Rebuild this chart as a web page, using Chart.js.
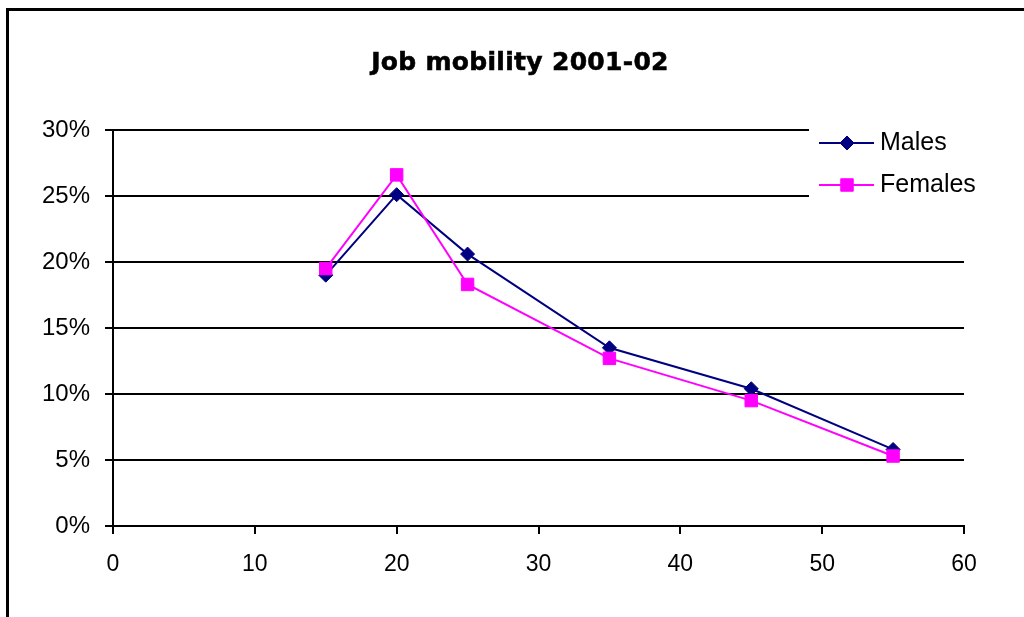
<!DOCTYPE html>
<html lang="en">

<head>
    <meta charset="UTF-8">
    <title>Job mobility 2001-02</title>
    <script src="https://cdn.jsdelivr.net/npm/chart.js"></script>
    <style>
        html, body { margin: 0; padding: 0; background: #fff; }
        #chart { display: block; }
    </style>
</head>

<body>
    <canvas id="chart" width="1024" height="617"></canvas>

    <script>
        // data (age vs share changing job, %)
        const ages = [15, 20, 25, 35, 45, 55];
        const males = [19.0, 25.1, 20.6, 13.5, 10.4, 5.8];
        const females = [19.5, 26.6, 18.3, 12.7, 9.5, 5.3];
        const yTicks = [0, 5, 10, 15, 20, 25, 30];
        const xTicks = [0, 10, 20, 30, 40, 50, 60];
        const chartTitle = 'Job mobility 2001-02';

        const labelFont = { family: 'Liberation Sans, Arial, sans-serif', size: 23 };

        const toPoints = (xs, ys) => xs.map((x, i) => ({ x: x, y: ys[i] }));

        // outer frame + title (title is centred on the frame, not the plot)
        const framePlugin = {
            id: 'frame',
            beforeDraw(chart) {
                const ctx = chart.ctx;
                ctx.save();
                ctx.strokeStyle = '#000';
                ctx.lineWidth = 3;
                ctx.strokeRect(7.5, 9.5, 1100, 1000);

                ctx.fillStyle = '#000';
                ctx.font = 'bold 25px DejaVu Sans, sans-serif';
                ctx.letterSpacing = '0.3px';
                ctx.textAlign = 'center';
                ctx.textBaseline = 'alphabetic';
                ctx.fillText(chartTitle, 520, 70);
                ctx.lineWidth = 0.6;
                ctx.strokeText(chartTitle, 520, 70);
                ctx.restore();
            }
        };

        // Excel-like legend box sitting over the top right of the plot
        const legendPlugin = {
            id: 'boxLegend',
            afterDraw(chart) {
                const ctx = chart.ctx;
                ctx.save();
                ctx.fillStyle = '#fff';
                ctx.fillRect(809, 118, 200, 84);
                chart.data.datasets.forEach((ds, i) => {
                    const y = 143 + i * 42;
                    ctx.strokeStyle = ds.borderColor;
                    ctx.lineWidth = ds.borderWidth;
                    ctx.beginPath();
                    ctx.moveTo(819, y);
                    ctx.lineTo(874, y);
                    ctx.stroke();

                    ctx.fillStyle = ds.pointBackgroundColor;
                    ctx.beginPath();
                    if (ds.pointStyle === 'rectRot') {
                        const r = ds.pointRadius;
                        ctx.moveTo(847 - r, y);
                        ctx.lineTo(847, y - r);
                        ctx.lineTo(847 + r, y);
                        ctx.lineTo(847, y + r);
                        ctx.closePath();
                    } else {
                        const s = ds.pointRadius * Math.SQRT1_2;
                        ctx.rect(847 - s, y - s, 2 * s, 2 * s);
                    }
                    ctx.fill();
                    ctx.lineWidth = 1;
                    ctx.stroke();

                    ctx.fillStyle = '#000';
                    ctx.font = '25px ' + labelFont.family;
                    ctx.textAlign = 'left';
                    ctx.textBaseline = 'middle';
                    ctx.fillText(ds.label, 880, y);
                });
                ctx.restore();
            }
        };

        new Chart(document.getElementById('chart'), {
            type: 'line',
            data: {
                datasets: [{
                    label: 'Males',
                    data: toPoints(ages, males),
                    borderColor: '#000080',
                    backgroundColor: '#000080',
                    pointBackgroundColor: '#000080',
                    pointBorderColor: '#000080',
                    borderWidth: 2,
                    pointStyle: 'rectRot',
                    pointRadius: 7,
                    pointBorderWidth: 1,
                    order: 1
                }, {
                    label: 'Females',
                    data: toPoints(ages, females),
                    borderColor: '#ff00ff',
                    backgroundColor: '#ff00ff',
                    pointBackgroundColor: '#ff00ff',
                    pointBorderColor: '#ff00ff',
                    borderWidth: 2,
                    pointStyle: 'rect',
                    pointRadius: 8.8,
                    pointBorderWidth: 1,
                    order: 0
                }]
            },
            options: {
                responsive: false,
                animation: false,
                devicePixelRatio: 1,
                layout: { padding: { left: 0, right: 60, top: 130, bottom: 0 } },
                plugins: {
                    legend: { display: false },
                    tooltip: { enabled: false },
                    title: { display: false }
                },
                scales: {
                    x: {
                        type: 'linear',
                        min: 0,
                        max: 60,
                        afterBuildTicks: s => { s.ticks = xTicks.map(v => ({ value: v })); },
                        afterFit: s => { s.height = 91; },
                        ticks: { color: '#000', font: labelFont, padding: 17, maxRotation: 0 },
                        grid: { drawOnChartArea: false, drawTicks: true, tickLength: 8, color: '#000', lineWidth: 2 },
                        border: { color: '#000', width: 2 }
                    },
                    y: {
                        min: 0,
                        max: 30,
                        afterBuildTicks: s => { s.ticks = yTicks.map(v => ({ value: v })); },
                        afterFit: s => { s.width = 113; },
                        ticks: { color: '#000', font: { family: labelFont.family, size: 24 }, padding: 15, callback: v => v + '%' },
                        grid: { drawTicks: true, tickLength: 8, color: '#000', lineWidth: 2 },
                        border: { color: '#000', width: 2 }
                    }
                }
            },
            plugins: [framePlugin, legendPlugin]
        });
    </script>
</body>

</html>
